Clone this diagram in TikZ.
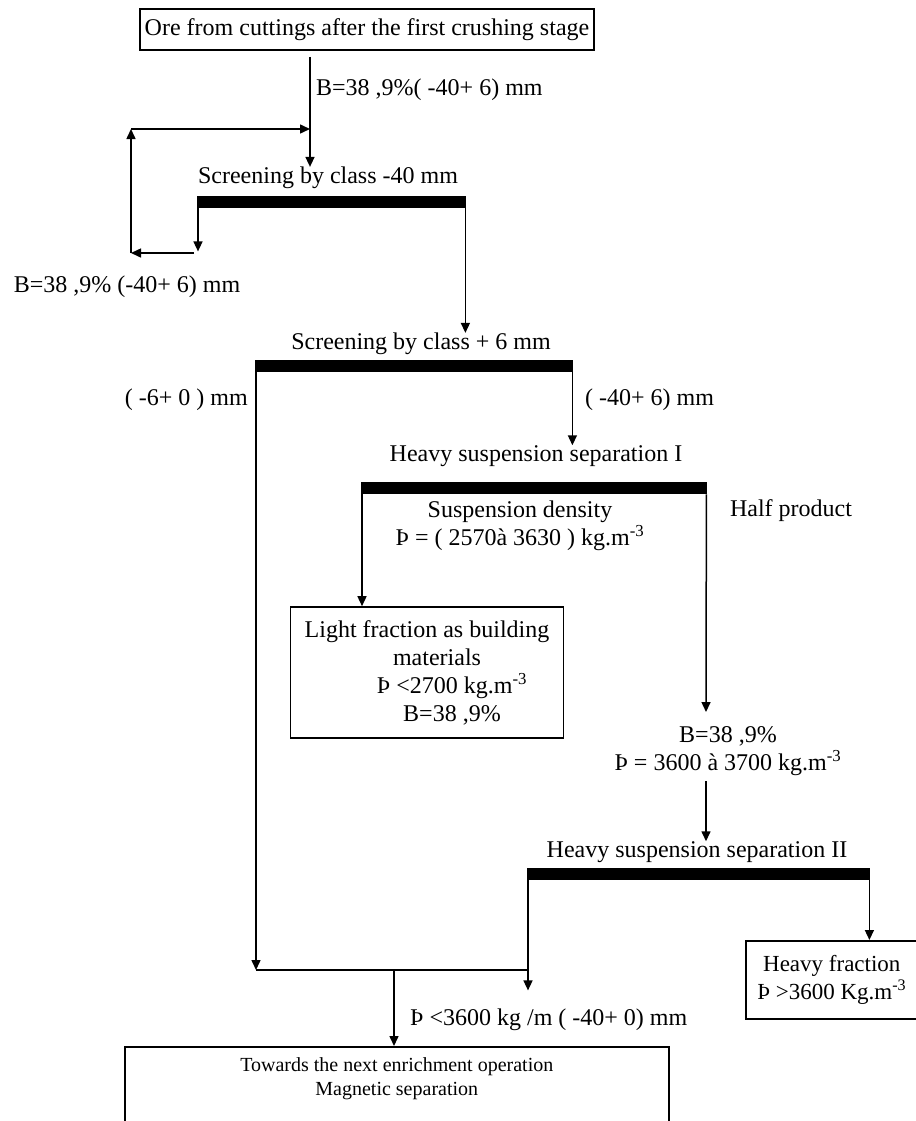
\documentclass[tikz,border=0pt]{standalone}
\usepackage{fontspec}
\setmainfont{Liberation Serif}
\usetikzlibrary{arrows.meta}

\tikzset{
  txt/.style={font=\fontsize{24}{28}\selectfont, inner sep=0pt, align=center},
  bar/.style={fill=black, inner sep=0pt, minimum height=12pt, anchor=north west},
  box/.style={draw, line width=1.6pt, txt},
  flow/.style={line width=1.5pt, -{Triangle[length=10pt,width=9pt]}},
  plain/.style={line width=1.5pt}
}

\begin{document}
\begin{tikzpicture}[x=1pt,y=-1pt]
  \useasboundingbox (0,0) rectangle (915,1121);

  % Koordinaten
  \coordinate (feed) at (310,57);
  \coordinate (retA) at (194,253);
  \coordinate (retB) at (131,253);
  \coordinate (retC) at (131,129);
  \coordinate (mixL) at (256,970);
  \coordinate (mixR) at (527,970);
  \coordinate (mixM) at (394,970);
  \coordinate (halfin) at (706,712);
  \coordinate (halfout) at (706,781);

  % Kaesten
  \node[box, minimum width=454pt, minimum height=41pt] (ore) at (367,29.5) {Ore from cuttings after the first crushing stage};
  \node[box, minimum width=273pt, minimum height=131pt] (light) at (427,672.5) {Light fraction as building\\\hspace*{20pt}materials\\\hspace*{50pt}Þ <2700 kg.m\textsuperscript{-3}\\\hspace*{50pt}B=38 ,9\%};
  \node[box, anchor=north west, minimum width=172pt, minimum height=78pt, font=\fontsize{23}{28}\selectfont] (heavy) at (745,940) {Heavy fraction\\Þ >3600 Kg.m\textsuperscript{-3}};
  \node[box, anchor=north west, minimum width=544pt, minimum height=120pt] (final) at (124,1046) {};
  \node[txt, font=\fontsize{20}{24}\selectfont, anchor=north] (finaltxt) at ([yshift=-11pt]final.north) {Towards the next enrichment operation\\Magnetic separation};

  % Siebe
  \node[bar, minimum width=269pt] (bar1) at (197,196) {};
  \node[bar, minimum width=318pt] (bar2) at (255,360) {};
  \node[bar, minimum width=346pt] (bar3) at (361,482) {};
  \node[bar, minimum width=343pt] (bar4) at (527,868) {};

  % Beschriftungen
  \node[txt] (scr1) at (328,178) {Screening by class -40 mm};
  \node[txt] (scr2) at (421,344) {Screening by class + 6 mm};
  \node[txt] (hs1) at (536,456) {Heavy suspension separation I};
  \node[txt] (hs2) at (697,852) {Heavy suspension separation II};
  \node[txt, anchor=west] (lb1) at (316,90) {B=38 ,9\%( -40+ 6) mm};
  \node[txt] (lb2) at (127,287) {B=38 ,9\% (-40+ 6) mm};
  \node[txt, anchor=east] (lb3) at (248,400) {( -6+ 0 ) mm};
  \node[txt, anchor=west] (lb4) at (585,400) {( -40+ 6) mm};
  \node[txt] (dens) at (520,526) {Suspension density\\Þ = ( 2570à 3630 ) kg.m\textsuperscript{-3}};
  \node[txt] (halfp) at (791,511) {Half product};
  \node[txt] (hp) at (728,751) {B=38 ,9\%\\Þ = 3600 à 3700 kg.m\textsuperscript{-3}};
  \node[txt, anchor=west] (lb5) at (410,1020) {Þ <3600 kg /m ( -40+ 0) mm};

  % Linien
  \draw[flow] (feed) -- (feed |- scr1.north);
  \draw[flow] ([xshift=1pt]bar1.south west) -- ++(0,43);
  \draw[flow] (retA) -- (retB);
  \draw[flow] (retB) -- (retC);
  \draw[flow] (retC) -- (retC -| feed);
  \draw[flow] ([xshift=-1pt]bar1.south east) -- ([xshift=-1pt]bar1.south east |- scr2.north);
  \draw[flow] ([xshift=1pt]bar2.south west) -- (mixL);
  \draw[plain] (mixL) -- (mixR);
  \draw[flow] ([xshift=-1pt]bar2.south east) -- ([xshift=-1pt]bar2.south east |- hs1.north);
  \draw[flow] ([xshift=1pt]bar3.south west) -- ([xshift=1pt]bar3.south west |- light.north);
  \draw[flow] ([xshift=-1pt]bar3.south east) -- (halfin);
  \draw[flow] (halfout) -- (halfout |- hs2.north);
  \draw[flow] ([xshift=-1pt]bar4.south east) -- ([xshift=-1pt]bar4.south east |- heavy.north);
  \draw[flow] ([xshift=1pt]bar4.south west) -- ++(0,110);
  \draw[flow] (mixM) -- (mixM |- final.north);
\end{tikzpicture}
\end{document}
